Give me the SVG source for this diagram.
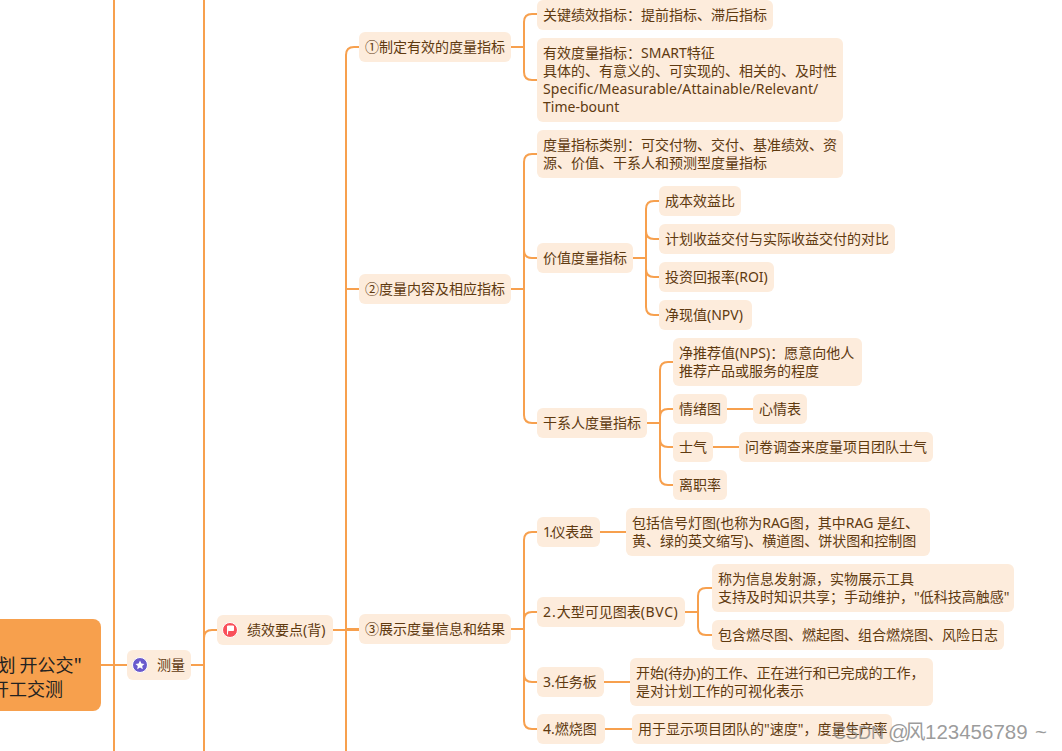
<svg xmlns="http://www.w3.org/2000/svg" width="1062" height="751" viewBox="0 0 1062 751">
<style>
.n{fill:#fdecdc}
.t{font-family:"Noto Sans","Noto Sans CJK SC",sans-serif;font-size:14px;fill:#5f3a10}
.k{font-family:"Noto Sans CJK SC",sans-serif}
.c{fill:none;stroke:#f7a04e;stroke-width:2}
.r{font-family:"Noto Sans CJK SC",sans-serif;font-size:18px;fill:#222}
.w{font-family:"Liberation Sans","Noto Sans CJK SC",sans-serif;font-size:20.5px;fill:#8a8a8a;fill-opacity:.85}
</style>
<rect width="1062" height="751" fill="#fff"/>
<g id="connectors" class="c">
<path d="M114 0V751M204 0V751M101 665H127M191 665H204M204 638Q204 630 212 630H217M333 630H359"/>
<path d="M346 751V55Q346 47 354 47H359M346 289H359M346 629H359"/>
<path d="M511 47H524M537 14H532Q524 14 524 22V72Q524 80 532 80H537"/>
<path d="M511 289H524M537 154H532Q524 154 524 162V415Q524 423 532 423H537M524 250Q524 258 532 258H537"/>
<path d="M633 258H646M659 201H654Q646 201 646 209V307Q646 315 654 315H659M646 231Q646 239 654 239H659M646 269Q646 277 654 277H659"/>
<path d="M647 423H660M673 362H668Q660 362 660 370V477Q660 485 668 485H673M660 417Q660 409 668 409H673M660 439Q660 447 668 447H673M727 409H753M713 447H739"/>
<path d="M511 629H524M537 532H532Q524 532 524 540V721Q524 729 532 729H537M524 620Q524 612 532 612H537M524 674Q524 682 532 682H537"/>
<path d="M600 532H626M685 612H698M712 588H706Q698 588 698 596V627Q698 635 706 635H712M604 682H630M605 729H632"/>
</g>
<g id="root"><rect x="-20" y="619" width="121" height="92" rx="8" fill="#f7a04d"/><text class="r" x="82" y="672" text-anchor="end">划 开公交"</text><text class="r" x="63" y="696" text-anchor="end">开工交测</text></g>
<g id="n-measure"><rect class="n" x="127" y="650" width="64" height="30" rx="6"/><circle cx="140" cy="665" r="7.5" fill="#6a5acd" stroke="#fff"/><polygon points="140,660.5 141.4,663.6 144.5,664 142.2,666.1 142.8,669.2 140,667.6 137.2,669.2 137.8,666.1 135.5,664 138.6,663.6" fill="#fff"/><text class="t" x="157" y="670">测量</text></g>
<g id="n-key"><rect class="n" x="217" y="615" width="116" height="30" rx="6"/><circle cx="230" cy="630" r="7.5" fill="#f9505a" stroke="#fff"/><path d="M227.5 634.5V626H233.5V630.5H228.5" fill="#fff" stroke="#fff"/><text class="t" x="247" y="635">绩效要点(背)</text></g>
<g id="n1"><rect class="n" x="359" y="32" width="152" height="30" rx="6"/><text class="t" x="365" y="52"><tspan class="k">①</tspan>制定有效的度量指标</text></g>
<g id="n2"><rect class="n" x="359" y="274" width="152" height="30" rx="6"/><text class="t" x="365" y="294"><tspan class="k">②</tspan>度量内容及相应指标</text></g>
<g id="n3"><rect class="n" x="359" y="614" width="152" height="30" rx="6"/><text class="t" x="365" y="634"><tspan class="k">③</tspan>展示度量信息和结果</text></g>
<g id="n11"><rect class="n" x="537" y="0" width="236" height="30" rx="6"/><text class="t" x="543" y="20">关键绩效指标：提前指标、滞后指标</text></g>
<g id="n12"><rect class="n" x="537" y="38" width="306" height="84" rx="6"/><text class="t" x="543" y="58">有效度量指标：SMART特征</text><text class="t" x="543" y="76">具体的、有意义的、可实现的、相关的、及时性</text><text class="t" x="543" y="94" letter-spacing=".1">Specific/Measurable/Attainable/Relevant/</text><text class="t" x="543" y="112">Time-bount</text></g>
<g id="n21"><rect class="n" x="537" y="130" width="306" height="48" rx="6"/><text class="t" x="543" y="150">度量指标类别：可交付物、交付、基准绩效、资</text><text class="t" x="543" y="168">源、价值、干系人和预测型度量指标</text></g>
<g id="n22"><rect class="n" x="537" y="243" width="96" height="30" rx="6"/><text class="t" x="543" y="263">价值度量指标</text></g>
<g id="n221"><rect class="n" x="659" y="186" width="82" height="30" rx="6"/><text class="t" x="665" y="206">成本效益比</text></g>
<g id="n222"><rect class="n" x="659" y="224" width="236" height="30" rx="6"/><text class="t" x="665" y="244">计划收益交付与实际收益交付的对比</text></g>
<g id="n223"><rect class="n" x="659" y="262" width="115" height="30" rx="6"/><text class="t" x="665" y="282">投资回报率(ROI)</text></g>
<g id="n224"><rect class="n" x="659" y="300" width="93" height="30" rx="6"/><text class="t" x="665" y="320">净现值(NPV)</text></g>
<g id="n23"><rect class="n" x="537" y="408" width="110" height="30" rx="6"/><text class="t" x="543" y="428">干系人度量指标</text></g>
<g id="n231"><rect class="n" x="673" y="338" width="189" height="48" rx="6"/><text class="t" x="679" y="358">净推荐值(NPS)：愿意向他人</text><text class="t" x="679" y="376">推荐产品或服务的程度</text></g>
<g id="n232"><rect class="n" x="673" y="394" width="54" height="30" rx="6"/><text class="t" x="679" y="414">情绪图</text></g>
<g id="n2321"><rect class="n" x="753" y="394" width="54" height="30" rx="6"/><text class="t" x="759" y="414">心情表</text></g>
<g id="n233"><rect class="n" x="673" y="432" width="40" height="30" rx="6"/><text class="t" x="679" y="452">士气</text></g>
<g id="n2331"><rect class="n" x="739" y="432" width="194" height="30" rx="6"/><text class="t" x="745" y="452">问卷调查来度量项目团队士气</text></g>
<g id="n234"><rect class="n" x="673" y="470" width="54" height="30" rx="6"/><text class="t" x="679" y="490">离职率</text></g>
<g id="n31"><rect class="n" x="537" y="517" width="63" height="30" rx="6"/><text class="t" x="543" y="537"><tspan letter-spacing="-1.7">1.</tspan>仪表盘</text></g>
<g id="n311"><rect class="n" x="626" y="508" width="304" height="48" rx="6"/><text class="t" x="632" y="528">包括信号灯图(也称为RAG图，其中RAG 是红、</text><text class="t" x="632" y="546">黄、绿的英文缩写)、横道图、饼状图和控制图</text></g>
<g id="n32"><rect class="n" x="537" y="597" width="148" height="30" rx="6"/><text class="t" x="543" y="617"><tspan letter-spacing="1">2.</tspan>大型可见图表<tspan letter-spacing=".6">(BVC)</tspan></text></g>
<g id="n321"><rect class="n" x="712" y="564" width="302" height="48" rx="6"/><text class="t" x="718" y="584">称为信息发射源，实物展示工具</text><text class="t" x="718" y="602">支持及时知识共享；手动维护，"低科技高触感"</text></g>
<g id="n322"><rect class="n" x="712" y="620" width="292" height="30" rx="6"/><text class="t" x="718" y="640">包含燃尽图、燃起图、组合燃烧图、风险日志</text></g>
<g id="n33"><rect class="n" x="537" y="667" width="67" height="30" rx="6"/><text class="t" x="543" y="687">3.任务板</text></g>
<g id="n331"><rect class="n" x="630" y="658" width="303" height="48" rx="6"/><text class="t" x="636" y="678">开始(待办)的工作、正在进行和已完成的工作，</text><text class="t" x="636" y="696">是对计划工作的可视化表示</text></g>
<g id="n34"><rect class="n" x="537" y="714" width="68" height="30" rx="6"/><text class="t" x="543" y="734">4.燃烧图</text></g>
<g id="n341"><rect class="n" x="632" y="714" width="260" height="30" rx="6"/><text class="t" x="638" y="734">用于显示项目团队的"速度"，度量生产率</text></g>
<text class="w" x="833" y="739"><tspan font-size="18">CSDN</tspan><tspan x="888">@</tspan><tspan x="905">风</tspan><tspan x="925">123456789</tspan><tspan x="1035">~</tspan></text>
</svg>
